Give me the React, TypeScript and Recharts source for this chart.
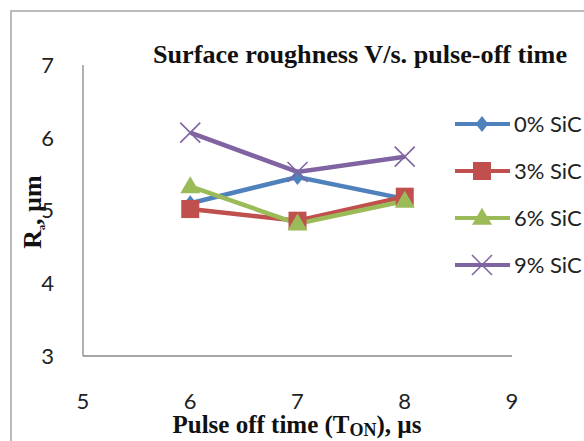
import React from 'react';
import { LineChart, Line, XAxis, YAxis, Customized } from 'recharts';

const xValues = [6, 7, 8];
const sic0 = [5.1, 5.46, 5.16];
const sic3 = [5.02, 4.86, 5.19];
const sic6 = [5.33, 4.82, 5.13];
const sic9 = [6.07, 5.53, 5.74];
const seriesNames = ['0% SiC', '3% SiC', '6% SiC', '9% SiC'];
const seriesColors = ['#4F81BD', '#C0504D', '#9BBB59', '#8064A2'];
const xTicks = [5, 6, 7, 8, 9];
const yTicks = [3, 4, 5, 6, 7];

const data = xValues.map((x, i) => ({ x, s0: sic0[i], s3: sic3[i], s6: sic6[i], s9: sic9[i] }));

const SERIF = '"Liberation Serif", "Times New Roman", serif';
const SANS = 'Lato, "Open Sans", sans-serif';

function Marker({ kind, cx, cy, color }: { kind: number; cx: number; cy: number; color: string }) {
  if (kind === 0) {
    const r = 8;
    return <polygon points={`${cx},${cy - r} ${cx + r * 0.8},${cy} ${cx},${cy + r} ${cx - r * 0.8},${cy}`} fill={color} />;
  }
  if (kind === 1) {
    const s = 18;
    return <rect x={cx - s / 2} y={cy - s / 2} width={s} height={s} fill={color} />;
  }
  if (kind === 2) {
    const w = 20;
    const h = 17;
    return <polygon points={`${cx},${cy - h * 0.6} ${cx + w / 2},${cy + h * 0.4} ${cx - w / 2},${cy + h * 0.4}`} fill={color} />;
  }
  const r = 10;
  return (
    <g stroke={color} strokeWidth={1.6}>
      <line x1={cx - r} y1={cy - r} x2={cx + r} y2={cy + r} />
      <line x1={cx - r} y1={cy + r} x2={cx + r} y2={cy - r} />
    </g>
  );
}

const makeDot = (kind: number) => (props: any) => (
  <Marker key={`d${kind}-${props.index}`} kind={kind} cx={props.cx} cy={props.cy} color={seriesColors[kind]} />
);

function Decorations() {
  const legendTop = 124;
  const legendGap = 47;
  return (
    <g>
      <rect x={11} y={11} width={600} height={460} fill="none" stroke="#ABABAB" strokeWidth={1.6} />
      <text x={153} y={63} fontFamily={SERIF} fontWeight="bold" fontSize={26} fill="#111" textLength={414} lengthAdjust="spacingAndGlyphs">
        Surface roughness V/s. pulse-off time
      </text>
      <text x={297} y={433} textAnchor="middle" fontFamily={SERIF} fontWeight="bold" fontSize={25} fill="#111">
        Pulse off time (T<tspan fontSize={18} dy={3}>ON</tspan><tspan dy={-3}>), µs</tspan>
      </text>
      <text transform="translate(41,212) rotate(-90)" textAnchor="middle" fontFamily={SERIF} fontWeight="bold" fontSize={26} fill="#111">
        R<tspan fontSize={10} dy={4}>a</tspan><tspan dy={-4}>, µm</tspan>
      </text>
      {seriesNames.map((name, i) => {
        const y = legendTop + i * legendGap;
        return (
          <g key={name}>
            <line x1={455} y1={y} x2={510} y2={y} stroke={seriesColors[i]} strokeWidth={4} />
            <Marker kind={i} cx={482} cy={y} color={seriesColors[i]} />
            <text x={514} y={y + 8} fontFamily={SANS} fontSize={22} fill="#222">
              {name}
            </text>
          </g>
        );
      })}
    </g>
  );
}

export default function App() {
  return (
    <div style={{ position: 'absolute', left: 0, top: 0, width: 584, height: 441, background: '#fff' }}>
      <LineChart width={584} height={441} data={data} margin={{ top: 65, right: 72, bottom: 55, left: 43 }}>
        <Customized component={Decorations} />
        <XAxis
          dataKey="x"
          type="number"
          domain={[5, 9]}
          ticks={xTicks}
          height={30}
          tickLine={false}
          tickSize={0}
          tickMargin={37}
          axisLine={{ stroke: '#878787', strokeWidth: 1.3 }}
          tick={{ fontFamily: SANS, fontSize: 22, fill: '#222' }}
        />
        <YAxis
          type="number"
          domain={[3, 7]}
          ticks={yTicks}
          width={40}
          tickLine={false}
          tickSize={0}
          tickMargin={29}
          axisLine={{ stroke: '#878787', strokeWidth: 1.3 }}
          tick={{ fontFamily: SANS, fontSize: 22, fill: '#222' }}
        />
        <Line dataKey="s0" name={seriesNames[0]} stroke={seriesColors[0]} strokeWidth={4.5} dot={makeDot(0)} isAnimationActive={false} />
        <Line dataKey="s3" name={seriesNames[1]} stroke={seriesColors[1]} strokeWidth={4.5} dot={makeDot(1)} isAnimationActive={false} />
        <Line dataKey="s6" name={seriesNames[2]} stroke={seriesColors[2]} strokeWidth={4.5} dot={makeDot(2)} isAnimationActive={false} />
        <Line dataKey="s9" name={seriesNames[3]} stroke={seriesColors[3]} strokeWidth={4.5} dot={makeDot(3)} isAnimationActive={false} />
      </LineChart>
    </div>
  );
}
